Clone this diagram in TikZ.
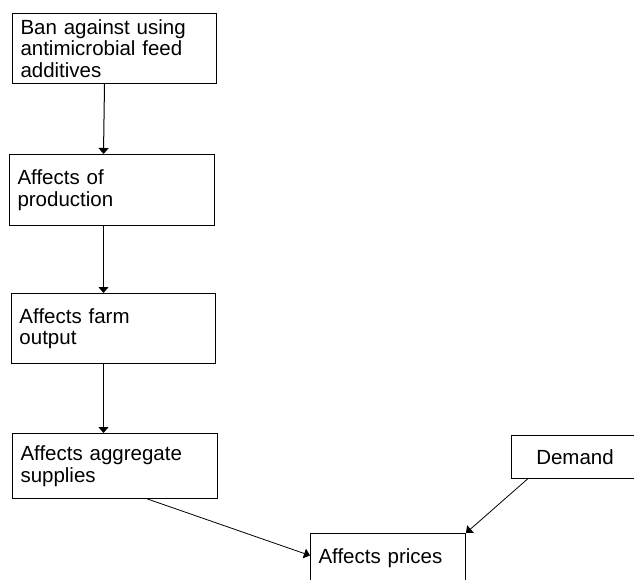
\documentclass[tikz,border=0pt]{standalone}
\usepackage{fontspec}
\setmainfont{Liberation Sans}
\usetikzlibrary{arrows.meta}

\begin{document}
\begin{tikzpicture}[x=1pt, y=-1pt, >={Triangle[length=6pt,width=10pt]},
  every node/.style={font=\fontsize{20.5}{21.5}\selectfont},
  box/.style={draw, line width=1pt, anchor=north west, inner xsep=8pt,
    inner ysep=0pt, align=left}]
  \useasboundingbox (0,0) rectangle (634,580);
  \clip (0,0) rectangle (634,580);
  % chain of effects
  \node[box, text width=188pt, minimum height=70pt] (ban)    at (12,13)  {Ban against using\\antimicrobial feed\\additives};
  \node[box, text width=189pt, minimum height=71pt] (prod)   at (9,154)  {Affects of\\production};
  \node[box, text width=188pt, minimum height=70pt] (farm)   at (11,293) {Affects farm\\output};
  \node[box, text width=189pt, minimum height=65pt] (supp)   at (12,433) {Affects aggregate\\supplies};
  \node[box, text width=139pt, minimum height=50pt] (prices) at (310,533) {Affects prices};
  \node[box, text width=111pt, minimum height=43pt, align=center] (demand) at (511,435) {Demand};
  \path[->, line width=1pt]
    ([xshift=-10pt]ban.south)  edge ([xshift=-8.5pt]prod.north)
    ([xshift=-8.5pt]prod.south) edge ([xshift=-10pt]farm.north)
    ([xshift=-10pt]farm.south) edge ([xshift=-11.5pt]supp.north);
  \path[->, line width=0.8pt]
    % supplies and demand meet at prices
    ([xshift=32.5pt]supp.south)    edge ([yshift=3pt]prices.west)
    ([xshift=-47.5pt]demand.south) edge (prices.north east);
\end{tikzpicture}
\end{document}
